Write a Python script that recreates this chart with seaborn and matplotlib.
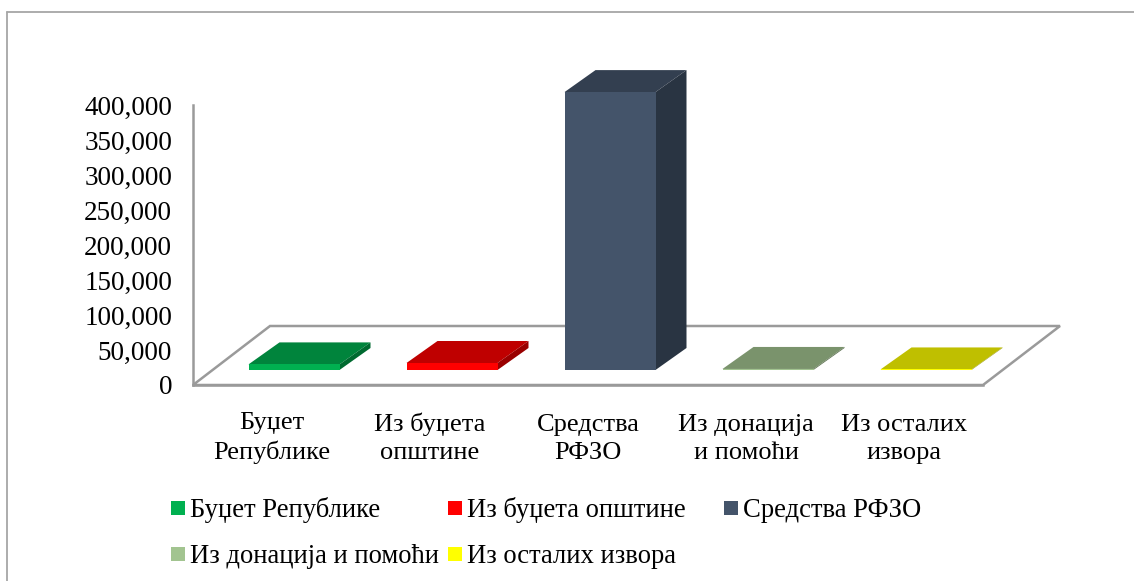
import seaborn as sns
import matplotlib.pyplot as plt
from matplotlib.patches import Polygon, Rectangle
from matplotlib.lines import Line2D
import pandas as pd

W, H = 1134, 581

# Chart data
categories = ['Буџет\nРепублике', 'Из буџета\nопштине', 'Средства\nРФЗО', 'Из донација\nи помоћи', 'Из осталих\nизвора']
legend_names = ['Буџет Републике', 'Из буџета општине', 'Средства РФЗО', 'Из донација и помоћи', 'Из осталих извора']
values = [8000, 10000, 397000, 1500, 800]
y_ticks = [0, 50000, 100000, 150000, 200000, 250000, 300000, 350000, 400000]

front_colors = ['#00B050', '#FF0000', '#44546A', '#A2C490', '#FFFF00']
top_colors = ['#00843C', '#BF0000', '#333F50', '#7A936C', '#BFBF00']
side_colors = ['#006A30', '#990000', '#293442', '#627656', '#999900']

sns.set_theme(style='white')
plt.rcParams['font.family'] = ['Liberation Serif']


def px_rect(left, right, top, bottom):
    return [left / W, 1 - bottom / H, (right - left) / W, (bottom - top) / H]


fig = plt.figure(figsize=(W / 100, H / 100), dpi=100)

# Outer frame of the chart area (only left and top show)
for xs, ys in [((7, 7), (12, 581)), ((7, 1134), (12, 12))]:
    fig.add_artist(Line2D([x / W for x in xs], [1 - y / H for y in ys], color='#A6A6A6', lw=1.3))

# Front plane: axis and floor
ax = fig.add_axes(px_rect(193, 983, 105, 385))
ax.set_xlim(-0.5, 4.5)
ax.set_ylim(0, 400000)
ax.patch.set_alpha(0)
ax.set_xticks(range(5))
ax.set_xticklabels(categories, fontsize=19, linespacing=1.36, color='black', va='baseline')
ax.set_yticks(y_ticks)
ax.set_yticklabels([f'{v:,}' for v in y_ticks], fontsize=19.5, color='black')
ax.tick_params(axis='y', length=0, pad=15)
ax.tick_params(axis='x', length=0, pad=53.5)
sns.despine(ax=ax, top=True, right=True)
for side in ['left', 'bottom']:
    ax.spines[side].set_color('#9A9A9A')
    ax.spines[side].set_linewidth(1.8)

# floor depth in data units
fx = 77 / 158
fy = 59 / 280 * 400000
floor = [(-0.5, 0), (4.5, 0), (4.5 + fx, fy), (-0.5 + fx, fy)]
ax.add_patch(Polygon(floor, closed=True, fill=False, edgecolor='#9A9A9A', lw=1.8, clip_on=False, zorder=1))

# Bars sit mid depth, so they get their own shifted axes
ax_bars = fig.add_axes(px_rect(215, 1005, 90, 370))
df = pd.DataFrame({'name': legend_names, 'value': values})
sns.barplot(data=df, x='name', y='value', hue='name', palette=front_colors, legend=False,
            width=91 / 158, saturation=1, linewidth=0, ax=ax_bars, zorder=3)
ax_bars.set_xlim(-0.5, 4.5)
ax_bars.set_ylim(0, 400000)
ax_bars.axis('off')

dx = 31 / 158
dy = 22 / 280 * 400000
for bar, top_c, side_c in zip(ax_bars.patches, top_colors, side_colors):
    x0 = bar.get_x()
    x1 = x0 + bar.get_width()
    h = bar.get_height()
    ax_bars.add_patch(Polygon([(x0, h), (x1, h), (x1 + dx, h + dy), (x0 + dx, h + dy)],
                              closed=True, color=top_c, lw=0, clip_on=False, zorder=2))
    ax_bars.add_patch(Polygon([(x1, 0), (x1 + dx, dy), (x1 + dx, h + dy), (x1, h)],
                              closed=True, color=side_c, lw=0, clip_on=False, zorder=2))

# Legend, laid out by hand in two rows (x of marker, y of text baseline)
legend_pos = [(171, 517), (448, 517), (724, 517), (171, 563), (448, 563)]
for name, color, (lx, ly) in zip(legend_names, front_colors, legend_pos):
    fig.add_artist(Rectangle((lx / W, 1 - (ly - 2) / H), 14 / W, 14 / H, color=color, lw=0))
    fig.text((lx + 19) / W, 1 - ly / H, name, fontsize=19.2, va='baseline', ha='left', color='black')

fig.savefig('out.png', dpi=100)
